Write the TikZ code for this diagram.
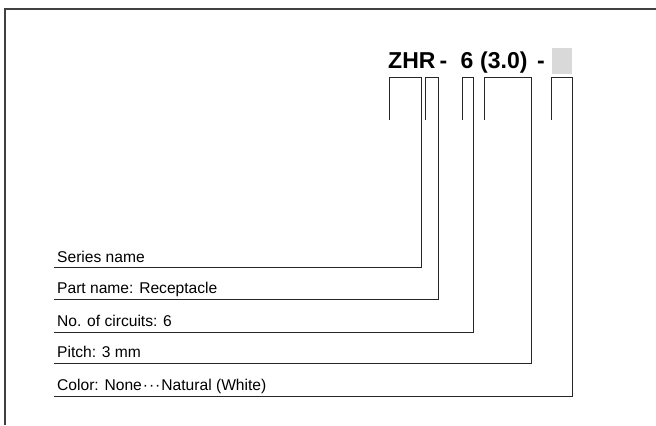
\documentclass[tikz,border=0pt]{standalone}
\usepackage{fontspec}
\setmainfont{Liberation Sans}
\begin{document}
\begin{tikzpicture}[x=1bp,y=-1bp,
  lbl/.style={anchor=base west,inner sep=0pt,font=\fontsize{15.6bp}{18bp}\selectfont},
  ttl/.style={anchor=base west,inner sep=0pt,font=\fontsize{23bp}{26bp}\selectfont\bfseries},
  ln/.style={line width=1bp,draw=black!85}]
\useasboundingbox (0,0) rectangle (656,425);
\draw[line width=1.3bp,draw=black!75] (5,425) -- (5,9) -- (656,9);
% title pieces
\node[ttl] (zhr) at (388,68.3) {ZHR};
\node[ttl] (d1) at (439.5,68.3) {-};
\node[ttl] (six) at (460.5,68.3) {6};
\node[ttl] (pitch) at (480,68.3) {(3.0)};
\node[ttl] (d2) at (537,68.3) {-};
\node[fill=black!15,minimum width=20bp,minimum height=26bp,inner sep=0pt,anchor=north west] (box) at (552,47.3) {};
% labels
\node[lbl] (l1) at (57,262.3) {Series name};
\node[lbl] (l2) at (57,293.6) {Part name: Receptacle};
\node[lbl] (l3) at (57,326.6) {No. of circuits: 6};
\node[lbl] (l4) at (57,357.9) {Pitch: 3 mm};
\node[lbl] (l5) at (57,390.6) {Color: None\kern1bp·\kern1bp·\kern1bp·\kern1bp Natural (White)};
% brackets
\coordinate (u1) at (54,267.7);
\coordinate (u2) at (54,299);
\coordinate (u3) at (54,332);
\coordinate (u4) at (54,363.3);
\coordinate (u5) at (54,396);
\draw[ln] (389,120) -- (389,77.7) -| (421,267.7) -- (u1);
\draw[ln] (425,120) -- (425,77.7) -| (438,299) -- (u2);
\draw[ln] (462,120) -- (462,77.7) -| (473.5,332) -- (u3);
\draw[ln] (484,120) -- (484,77.7) -| (531,363.3) -- (u4);
\draw[ln] (551,120) -- (551,77.7) -| (572,396) -- (u5);
\end{tikzpicture}
\end{document}
